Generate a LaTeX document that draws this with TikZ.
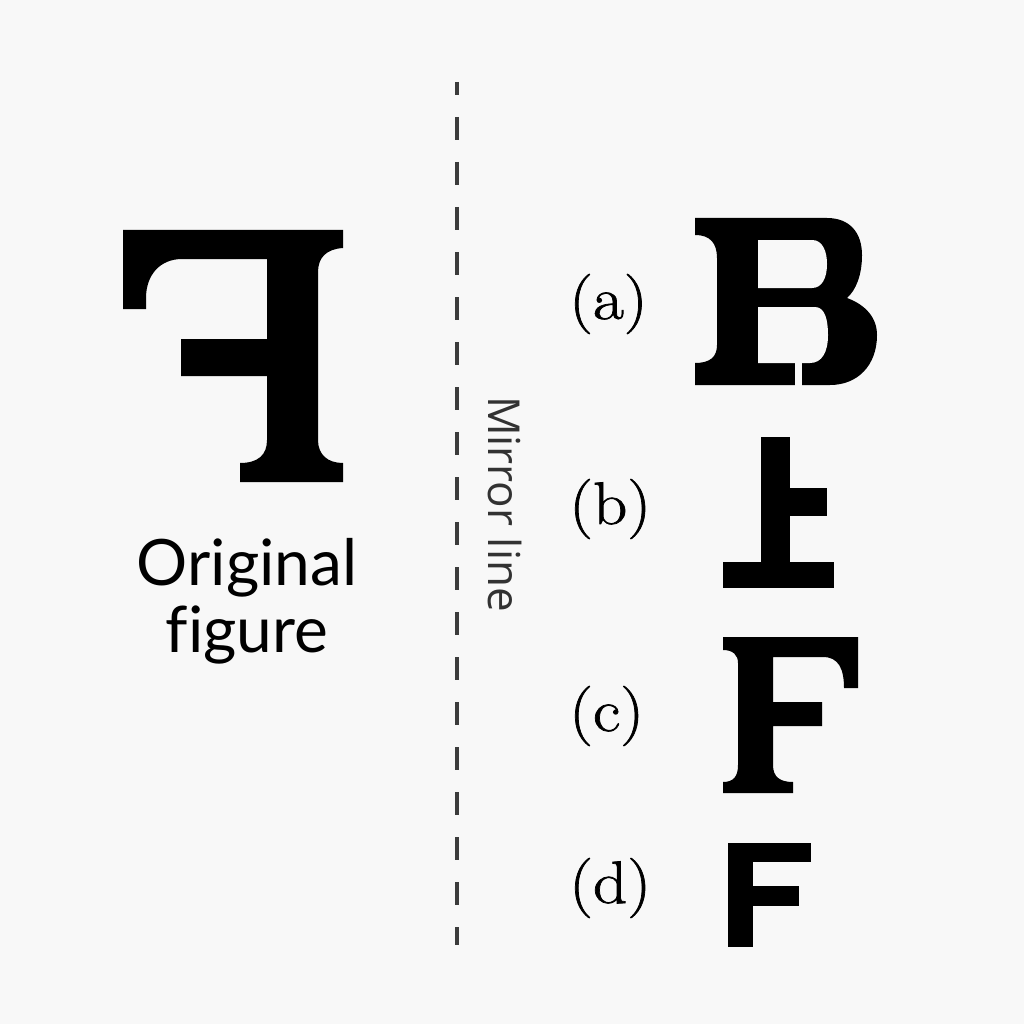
\documentclass[tikz,border=0pt]{standalone}
\usepackage{fontspec}
\newfontfamily\capfont[Ligatures=NoCommon]{Lato}
\newfontfamily\mirfont{Open Sans}
\newfontfamily\optfont[FakeBold=1.2,FakeStretch=1.12]{Latin Modern Roman}
\definecolor{bgc}{RGB}{248,248,248}
\definecolor{linec}{RGB}{60,60,60}
\definecolor{mirtxt}{RGB}{50,50,50}
\begin{document}
\begin{tikzpicture}[x=1pt,y=-1pt,
  glyph/.style={fill=black},
  hole/.style={fill=bgc},
  optlabel/.style={anchor=west,inner sep=0pt,font=\optfont\fontsize{60}{60}\selectfont},
  caption/.style={anchor=base,inner sep=0pt,font=\capfont\fontsize{64}{64}\selectfont},
  mirrorlab/.style={inner sep=0pt,rotate=-90,text=mirtxt,font=\mirfont\fontsize{44}{44}\selectfont},
  mirror/.style={draw=linec,line width=4pt,dash pattern=on 23pt off 22pt,dash phase=10pt}]
\fill[bgc] (0,0) rectangle (1024,1024);
\useasboundingbox (0,0) rectangle (1024,1024);

% original (mirrored F)
\fill[glyph] (123,230) -- (343,230) -- (343,248)
  .. controls (326,249) and (318,258) .. (318,272) -- (318,440)
  .. controls (318,455) and (328,463) .. (343,463) -- (343,482) -- (240,482) -- (240,463)
  .. controls (258,463) and (267,455) .. (267,440) -- (267,376) -- (181,376) -- (181,339)
  -- (267,339) -- (267,259) -- (182,259)
  .. controls (160,259) and (146,275) .. (146,298) -- (146,309) -- (123,309) -- cycle;
\node[caption] (orig1) at (247,585) {Original};
\node[caption] (orig2) at (247,652) {figure};

% mirror line
\coordinate (mtop) at (457,82);
\coordinate (mbot) at (457,945);
\draw[mirror] (mtop) -- (mbot);
\node[mirrorlab] (mirlab) at (505,504) {Mirror line};

% option labels
\node[optlabel] (la) at (569,304) {(a)};
\node[optlabel] (lb) at (569,509) {(b)};
\node[optlabel] (lc) at (569,716) {(c)};
\node[optlabel] (ld) at (569,888) {(d)};

% (a)
\fill[glyph] (695,218) -- (827,218) .. controls (850,218) and (862,233) .. (862,255)
  .. controls (862,275) and (856,290) .. (847,298)
  .. controls (866,305) and (877,318) .. (877,335)
  .. controls (877,365) and (858,385) .. (830,385) -- (695,385) -- (695,363)
  .. controls (710,363) and (717,357) .. (717,345) -- (717,258)
  .. controls (717,243) and (710,235) .. (695,235) -- cycle;
\fill[hole] (758,240) -- (812,240) .. controls (823,240) and (827,252) .. (827,264)
  .. controls (827,278) and (822,288) .. (812,288) -- (758,288) -- cycle;
\fill[hole] (758,307) -- (815,307) .. controls (825,307) and (828,320) .. (828,335)
  .. controls (828,352) and (822,363) .. (810,363) -- (758,363) -- cycle;
\fill[hole] (795,360) rectangle (802,386);

% (b)
\fill[glyph] (761,437) rectangle (790,562);
\fill[glyph] (790,488) rectangle (827,516);
\fill[glyph] (723,562) rectangle (834,588);

% (c)
\fill[glyph] (723,637) -- (858,637) -- (858,688) -- (844,688)
  .. controls (844,668) and (838,657) .. (823,657) -- (773,657) -- (773,702) -- (822,702)
  -- (822,726) -- (773,726) -- (773,765)
  .. controls (773,777) and (780,782) .. (793,782) -- (793,793) -- (723,793) -- (723,782)
  .. controls (733,782) and (738,777) .. (738,765) -- (738,663)
  .. controls (738,655) and (733,650) .. (723,650) -- cycle;

% (d)
\fill[glyph] (728,843) rectangle (753,947);
\fill[glyph] (753,843) rectangle (811,862);
\fill[glyph] (753,886) rectangle (799,906);
\end{tikzpicture}
\end{document}
